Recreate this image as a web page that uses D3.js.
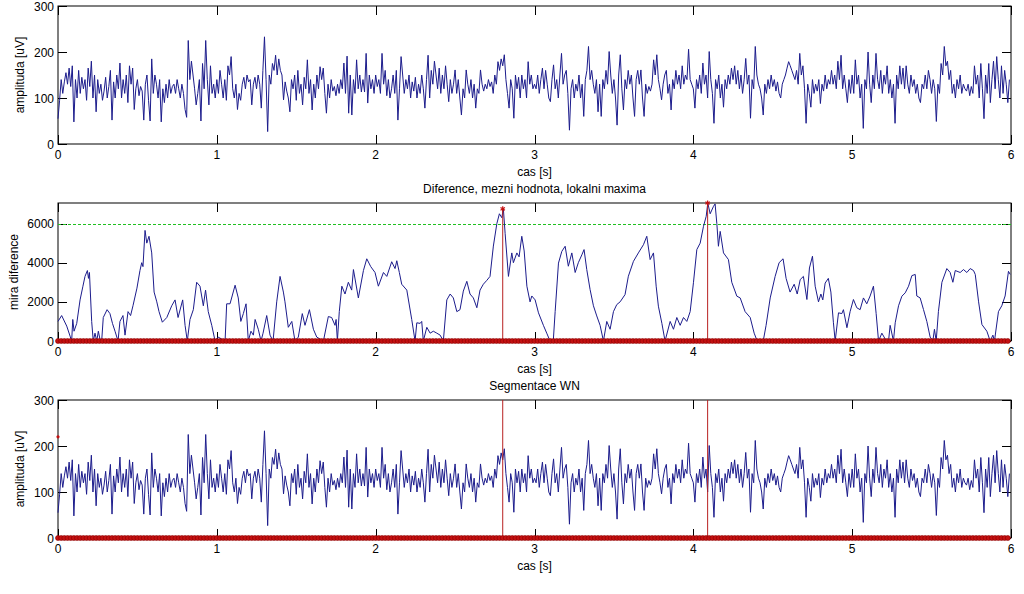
<!DOCTYPE html>
<html><head><meta charset="utf-8">
<script src="https://cdn.jsdelivr.net/npm/d3@7"></script>
<style>
body{margin:0;background:#fff;}
text{font-family:"Liberation Sans",Arial,Helvetica,sans-serif;font-size:12px;fill:#000;}
</style>
</head><body>
<svg id="chart" width="1024" height="594"></svg>
<script>
// ---------------- data ----------------
const sampleRate = 100; // samples per second
const signal = [
55,95,140,110,135,155,130,165,125,170,
48,140,100,160,110,145,120,140,95,165,
125,180,100,150,70,140,110,130,95,115,
145,100,125,160,52,135,100,150,120,176,
100,140,110,150,90,170,130,165,75,120,
140,105,125,115,52,130,150,95,50,185,
110,150,130,100,140,48,120,90,130,100,
140,110,125,130,110,140,120,100,130,110,
75,58,225,140,180,150,120,85,110,140,
50,175,120,225,140,85,170,110,130,100,
140,110,160,130,100,140,95,170,150,190,
120,100,130,75,110,95,130,145,120,150,
135,140,85,130,145,120,150,130,78,160,
233,140,27,150,130,175,160,193,150,185,
160,150,96,135,115,100,70,140,120,150,
95,160,110,130,85,145,120,183,110,140,
74,130,100,150,120,168,140,165,110,67,
130,100,140,115,125,105,130,110,140,120,
176,110,191,67,150,63,140,110,183,120,
150,113,140,113,197,89,150,120,140,110,
150,125,140,110,197,130,160,105,140,100,
120,150,110,160,52,120,190,150,110,140,
120,150,100,135,115,145,100,130,110,150,
120,78,140,193,100,160,130,180,150,120,
165,110,150,120,170,130,92,140,110,130,
161,110,140,100,63,120,100,161,130,110,
140,100,130,78,120,110,161,130,115,130,
120,140,125,135,110,150,130,179,160,185,
170,194,140,110,78,140,120,56,150,120,
145,100,150,120,140,100,179,130,150,120,
130,120,150,110,140,165,120,160,130,100,
92,140,172,120,140,100,150,197,130,150,
160,110,30,120,140,100,130,115,150,100,
130,60,140,160,212,140,160,130,110,140,
70,130,60,140,120,160,130,201,150,110,
140,100,41,150,194,120,74,140,120,160,
130,150,100,60,140,160,130,161,100,60,
130,110,125,115,130,183,150,194,140,120,
96,130,150,160,110,130,74,140,120,160,
130,150,120,170,130,150,140,206,140,130,
120,78,140,120,150,110,176,130,150,100,
201,140,110,45,140,120,150,100,130,80,
140,120,150,130,165,140,170,130,160,120,
150,110,140,186,130,150,56,140,120,212,
150,130,120,100,63,130,110,140,120,150,
125,140,115,135,110,100,130,140,150,165,
179,170,160,150,140,160,130,197,150,170,
120,45,130,110,80,140,110,130,115,140,
88,130,115,150,120,140,130,160,130,150,
120,180,140,193,120,150,120,90,140,110,
150,110,183,130,150,100,130,34,140,120,
200,130,90,150,120,197,140,120,160,110,
150,130,170,110,140,100,130,45,150,120,
170,130,165,120,170,130,110,150,125,140,
110,130,100,90,130,120,150,120,160,140,
110,140,120,49,130,110,175,150,212,170,
180,140,160,110,130,100,140,120,150,110,
130,120,115,130,105,125,110,170,130,150,
100,175,120,55,150,110,175,90,140,180,
120,190,140,100,170,110,160,130,90,140
];

const diffT = [
0.000,0.023,0.055,0.076,0.086,0.093,0.101,0.118,0.139,0.157,0.170,0.185,0.192,0.198,0.212,0.222,0.233,0.244,0.254,0.264,
0.275,0.285,0.309,0.327,0.343,0.359,0.378,0.390,0.409,0.422,0.441,0.457,0.472,0.497,0.516,0.527,0.535,0.548,0.559,0.573,
0.590,0.605,0.622,0.636,0.657,0.685,0.716,0.737,0.756,0.785,0.800,0.814,0.831,0.852,0.873,0.894,0.915,0.929,0.946,0.968,
0.989,1.008,1.031,1.052,1.062,1.083,1.115,1.135,1.151,1.167,1.184,1.198,1.215,1.230,1.241,1.261,1.278,1.291,1.314,1.335,
1.354,1.377,1.398,1.419,1.429,1.450,1.472,1.492,1.513,1.538,1.555,1.583,1.608,1.629,1.671,1.702,1.723,1.744,1.751,1.759,
1.771,1.787,1.807,1.828,1.849,1.860,1.891,1.923,1.944,1.969,1.996,2.017,2.049,2.070,2.101,2.122,2.133,2.149,2.164,2.196,
2.227,2.248,2.259,2.280,2.290,2.300,2.322,2.343,2.363,2.385,2.406,2.426,2.448,2.469,2.489,2.511,2.531,2.552,2.574,2.594,
2.615,2.637,2.657,2.678,2.700,2.720,2.741,2.763,2.779,2.794,2.804,2.815,2.836,2.857,2.867,2.889,2.903,2.920,2.935,2.952,
2.972,2.983,3.004,3.025,3.056,3.077,3.098,3.119,3.130,3.151,3.172,3.193,3.213,3.235,3.256,3.276,3.298,3.312,3.329,3.350,
3.371,3.392,3.413,3.434,3.455,3.476,3.497,3.518,3.539,3.570,3.591,3.623,3.654,3.686,3.707,3.728,3.749,3.766,3.780,3.802,
3.822,3.854,3.875,3.896,3.917,3.938,3.959,3.980,4.001,4.022,4.043,4.064,4.081,4.091,4.106,4.127,4.137,4.148,4.158,4.169,
4.190,4.221,4.242,4.274,4.295,4.326,4.358,4.383,4.402,4.440,4.458,4.484,4.515,4.540,4.565,4.584,4.609,4.635,4.654,4.673,
4.693,4.715,4.731,4.750,4.767,4.788,4.803,4.815,4.830,4.850,4.866,4.882,4.893,4.914,4.935,4.945,4.967,4.987,5.008,5.029,
5.050,5.071,5.092,5.113,5.134,5.151,5.166,5.187,5.208,5.229,5.239,5.260,5.271,5.292,5.313,5.334,5.355,5.376,5.397,5.407,
5.428,5.449,5.470,5.491,5.508,5.518,5.529,5.543,5.565,5.596,5.617,5.634,5.649,5.680,5.701,5.722,5.743,5.764,5.775,5.796,
5.817,5.848,5.869,5.886,5.896,5.921,5.942,5.963,5.984,5.995
];
const diffV = [
1000,1300,760,250,0,1100,500,900,2100,2800,3300,3600,3200,3500,1000,0,400,0,500,100,
0,1200,1600,1400,900,500,0,1000,1300,300,1500,1300,1800,2700,3600,4000,3800,5650,5000,5350,
4500,2500,2000,1500,960,1200,1800,2100,1200,2100,800,0,1100,1600,3000,2800,1800,2600,1500,800,
0,200,100,0,1900,1900,2850,2200,1000,1400,1900,0,500,300,1100,600,0,400,1300,300,
0,2000,3300,2500,2000,700,1000,0,200,1400,800,1600,600,200,0,1250,1200,800,1100,0,
1500,2800,2400,3000,2600,3650,2200,3600,4200,3800,3500,2800,3500,3300,4050,3700,4100,3500,2900,2600,
1100,0,930,900,1000,0,700,400,500,400,300,0,2100,2400,2200,1500,1600,2550,3050,2400,
2200,1700,2600,2900,3100,3300,4850,6000,6500,6300,6750,5500,3300,4500,4000,4500,4300,5350,4600,2800,
2000,2300,2100,1440,800,400,0,100,1500,3980,4580,4840,3820,4500,3500,4000,4400,4670,3650,2630,
1800,1280,800,0,1000,600,1500,1860,2000,2370,3310,4070,4500,4920,5350,4160,4500,2800,1780,900,
0,1000,600,1200,800,1200,1000,1500,3000,4670,5000,5860,6370,7050,6500,6880,7000,6000,4840,5600,
4500,4160,3000,2290,2200,1500,1200,400,0,0,800,2200,3300,4000,4200,3200,2500,2900,2400,3140,
3300,2120,3730,4330,2800,2000,2400,2100,2960,3200,2500,930,0,1440,1400,1600,680,1500,2120,1700,
1600,2200,1900,2300,2800,1400,0,400,100,0,800,0,930,1800,2290,2460,2800,3340,3400,2300,
2200,1610,1000,200,0,600,0,1500,3000,3700,3500,3000,3600,3500,3650,3500,3700,3600,3400,2000,
840,500,0,300,0,1500,1800,2300,3560,3400
];

const threshold = 6000;
const boundaryTimes = [2.80, 4.09];
const boundaryPeaks = [6750, 7050];
const segStartTimes = [0];
const segStartValues = [220];

const xTicks = [0, 1, 2, 3, 4, 5, 6];
const ampTicks = [0, 100, 200, 300];
const diffTicks = [0, 2000, 4000, 6000];
const xDomain = [0, 6];
const ampDomain = [0, 300];
const diffDomain = [0, 7050];

const xLabel = "cas [s]";
const ampLabel = "amplituda [uV]";
const diffLabel = "mira diference";
const diffTitle = "Diference, mezni hodnota, lokalni maxima";
const segTitle = "Segmentace WN";

// ---------------- drawing ----------------
const svg = d3.select("#chart");
const L = 58, R = 1011;
const TICK = 9;
const lineColor = "#1c1c8c";
const redColor = "#c41010";

const sigPts = signal.map((v, i) => [i / sampleRate, v]);
const diffPts = diffT.map((t, i) => [t, diffV[i]]);
const zeroPts = signal.map((v, i) => i / sampleRate).filter((t, i) => i % 2 === 0);

function panel(cfg) {
  const g = svg.append("g");
  const x = d3.scaleLinear().domain(xDomain).range([L, R]);
  const y = d3.scaleLinear().domain(cfg.yDomain).range([cfg.bottom, cfg.top]);

  g.append("rect").attr("x", L).attr("y", cfg.top).attr("width", R - L).attr("height", cfg.bottom - cfg.top)
    .attr("fill", "#fff").attr("stroke", "#000").attr("stroke-width", 1);

  const tk = g.append("g").attr("stroke", "#000").attr("stroke-width", 1);
  xTicks.forEach(t => {
    const xx = Math.round(x(t)) + 0.5;
    tk.append("line").attr("x1", xx).attr("x2", xx).attr("y1", cfg.bottom).attr("y2", cfg.bottom - TICK);
    tk.append("line").attr("x1", xx).attr("x2", xx).attr("y1", cfg.top).attr("y2", cfg.top + TICK);
  });
  cfg.yTicks.forEach(v => {
    const yy = Math.round(y(v)) + 0.5;
    tk.append("line").attr("x1", L).attr("x2", L + TICK).attr("y1", yy).attr("y2", yy);
    tk.append("line").attr("x1", R).attr("x2", R - TICK).attr("y1", yy).attr("y2", yy);
  });

  xTicks.forEach(t => {
    g.append("text").attr("x", x(t)).attr("y", cfg.bottom + 15).attr("text-anchor", "middle").text(t);
  });
  cfg.yTicks.forEach(v => {
    g.append("text").attr("x", 54).attr("y", y(v) + 4.5).attr("text-anchor", "end").text(v);
  });

  g.append("text").attr("x", (L + R) / 2).attr("y", cfg.bottom + 32).attr("text-anchor", "middle").text(xLabel);
  g.append("text").attr("transform", `translate(${cfg.ylabelX},${(cfg.top + cfg.bottom) / 2}) rotate(-90)`)
    .attr("text-anchor", "middle").text(cfg.ylabel);
  if (cfg.title) {
    g.append("text").attr("x", (L + R) / 2).attr("y", cfg.top - 10).attr("text-anchor", "middle").text(cfg.title);
  }
  return {g, x, y};
}

function drawLine(p, pts, color) {
  p.g.append("path").datum(pts)
    .attr("fill", "none").attr("stroke", color).attr("stroke-width", 1).attr("stroke-linejoin", "round")
    .attr("d", d3.line().x(d => p.x(d[0])).y(d => p.y(d[1])));
}
function drawZeroMarkers(p) {
  p.g.append("g").selectAll("circle").data(zeroPts).join("circle")
    .attr("cx", t => p.x(t)).attr("cy", p.y(0)).attr("r", 2.5)
    .attr("fill", redColor).attr("stroke", "#8a0000").attr("stroke-width", 0.6);
}

// Top panel: raw signal
const p1 = panel({top: 6, bottom: 144, yDomain: ampDomain, yTicks: ampTicks, ylabel: ampLabel, ylabelX: 24});
drawLine(p1, sigPts, lineColor);

// Middle panel: difference measure, threshold, local maxima
const p2 = panel({top: 203, bottom: 341, yDomain: diffDomain, yTicks: diffTicks, ylabel: diffLabel, ylabelX: 18, title: diffTitle});
p2.g.append("line").attr("x1", L).attr("x2", R).attr("y1", Math.round(p2.y(threshold)) + 0.5).attr("y2", Math.round(p2.y(threshold)) + 0.5)
  .attr("stroke", "#20c020").attr("stroke-width", 1).attr("stroke-dasharray", "3,2");
drawLine(p2, diffPts, lineColor);
boundaryTimes.forEach((t, i) => {
  p2.g.append("line").attr("x1", p2.x(t)).attr("x2", p2.x(t)).attr("y1", p2.y(0)).attr("y2", p2.y(boundaryPeaks[i]))
    .attr("stroke", "#b82020").attr("stroke-width", 1);
  p2.g.append("path").attr("transform", `translate(${p2.x(t)},${p2.y(boundaryPeaks[i])})`)
    .attr("d", d3.symbol(d3.symbolAsterisk, 18)).attr("stroke", redColor).attr("stroke-width", 1.2).attr("fill", "none");
});
drawZeroMarkers(p2);

// Bottom panel: segmentation
const p3 = panel({top: 400, bottom: 538, yDomain: ampDomain, yTicks: ampTicks, ylabel: ampLabel, ylabelX: 24, title: segTitle});
drawLine(p3, sigPts, lineColor);
boundaryTimes.forEach(t => {
  p3.g.append("line").attr("x1", p3.x(t)).attr("x2", p3.x(t)).attr("y1", p3.y(0)).attr("y2", p3.y(ampDomain[1]))
    .attr("stroke", "#b82020").attr("stroke-width", 1);
});
segStartTimes.forEach((t, i) => {
  p3.g.append("circle").attr("cx", p3.x(t)).attr("cy", p3.y(segStartValues[i])).attr("r", 1.6).attr("fill", redColor);
});
drawZeroMarkers(p3);
</script>
</body></html>
